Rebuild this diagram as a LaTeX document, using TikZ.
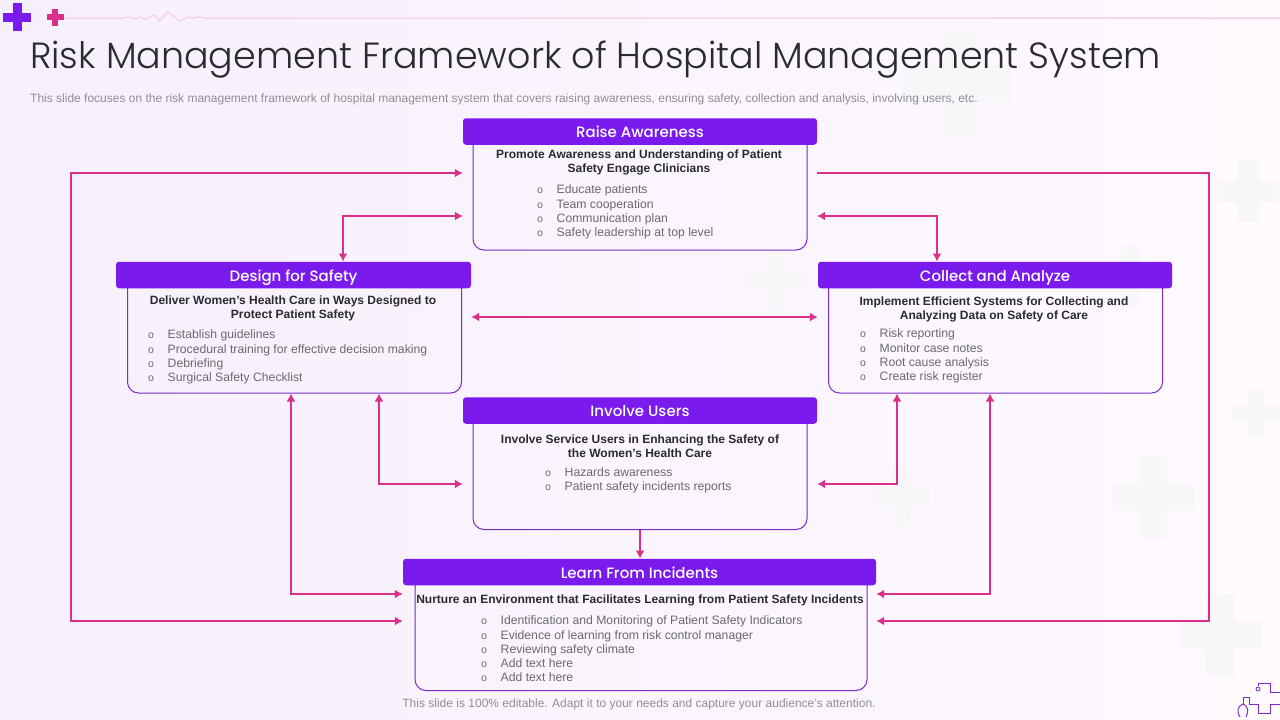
\documentclass[tikz,border=0pt]{standalone}
\usepackage{fontspec}
\usetikzlibrary{arrows.meta}
\setmainfont{Liberation Sans}
\newfontfamily\titlefont[UprightFont=* Light]{Poppins}
\newfontfamily\headfont[UprightFont=* Medium]{Poppins}
\definecolor{bgLeft}{HTML}{F6EFFD}
\definecolor{bgRight}{HTML}{FEFAFE}
\definecolor{markGray}{HTML}{F9F6FA}
\definecolor{barPink}{HTML}{F5D5EA}
\definecolor{linkPink}{HTML}{DA2F8B}
\definecolor{headPurple}{HTML}{7B1AEC}
\definecolor{boxPurple}{HTML}{7C2BC4}
\definecolor{inkDark}{HTML}{2B2A30}
\definecolor{inkGray}{HTML}{6B6870}
\definecolor{inkPale}{HTML}{918D96}
\tikzset{
  headbox/.style={fill=headPurple,rounded corners=3pt,text=white,minimum height=26.5pt,
    text height=16pt,text depth=4pt,inner sep=0pt,font=\headfont\fontsize{15}{18}\selectfont},
  bodybox/.style={draw=boxPurple,line width=1pt,rounded corners=11pt,inner sep=0pt},
  leadtext/.style={align=center,inner sep=0pt,text=inkDark,font=\bfseries\fontsize{12}{14}\selectfont},
  listtext/.style={anchor=west,align=left,inner sep=0pt,text=inkGray,font=\fontsize{12.2}{14.3}\selectfont},
  link/.style={draw=linkPink,line width=2.6pt},
  note/.style={inner sep=0pt,text=inkPale,font=\fontsize{12}{14}\selectfont}
}
% x, y, span, arm
\newcommand{\plusmark}[5]{
  \fill[#5] (#1-#4/2,#2-#3/2) rectangle (#1+#4/2,#2+#3/2);
  \fill[#5] (#1-#3/2,#2-#4/2) rectangle (#1+#3/2,#2+#4/2);
}
\newcommand{\bul}{\makebox[19.5pt][l]{\fontsize{10.5}{14.3}\selectfont o}}
\begin{document}
\begin{tikzpicture}[x=1pt,y=-1pt,>={Latex[length=8pt,width=9pt]}]
\useasboundingbox (0,0) rectangle (1280,720);

\fill[left color=bgLeft,middle color=bgRight,right color=bgRight] (0,0) rectangle (1280,720);

% pale marks
\plusmark{957}{83}{110}{37}{markGray}
\plusmark{1248}{191}{62}{21}{markGray}
\plusmark{1130}{276}{60}{18}{markGray}
\plusmark{777}{280}{60}{20}{markGray}
\plusmark{901}{497}{60}{20}{markGray}
\plusmark{1153}{497}{82}{28}{markGray}
\plusmark{1256}{413}{48}{16}{markGray}
\plusmark{1220}{635}{83}{28}{markGray}

% top strip
\draw[barPink,line width=1.5pt] (60,18) -- (123,18) -- (128,17) -- (134,19) -- (140,17) -- (145,19)
  -- (155,15) -- (159,21) -- (168,12) -- (180,21) -- (188,17) -- (193,18) -- (200,17) -- (205,18) -- (1280,18);
\plusmark{17}{17}{28}{9}{headPurple}
\plusmark{55}{17}{17}{6}{linkPink}

% corner icon
\draw[boxPurple,line width=.8pt] (1258,686) -- (1258,683) -- (1270,683) -- (1270,692) -- (1280,692) -- (1280,704) -- (1270,704)
  -- (1270,713) -- (1258,713) -- (1258,704) -- (1249,704) -- (1249,697) -- (1243,697) -- (1243,704);
\draw[boxPurple,line width=.8pt] (1258,689) circle (2);
\draw[boxPurple,line width=1pt] (1240,717) .. controls (1236,711) and (1238,706) .. (1243,704)
  .. controls (1248,706) and (1249,711) .. (1246,717);

\node[anchor=west,inner sep=0pt,text=inkDark,font=\titlefont\fontsize{36.45}{42}\selectfont] (title) at (30,60)
  {Risk Management Framework of Hospital Management System};
\node[note,anchor=west] (subtitle) at (30,99.5)
  {This slide focuses on the risk management framework of hospital management system that covers raising awareness, ensuring safety, collection and analysis, involving users, etc.};
\node[note] (footer) at (639,704) {This slide is 100\% editable. Adapt it to your needs and capture your audience's attention.};

% boxes
\node[bodybox,minimum width=334pt,minimum height=118pt] (raiseBody) at (640,191) {};
\node[bodybox,minimum width=334pt,minimum height=118pt] (designBody) at (294.5,334) {};
\node[bodybox,minimum width=334pt,minimum height=118pt] (collectBody) at (995.5,334) {};
\node[bodybox,minimum width=334pt,minimum height=119pt] (involveBody) at (640,470) {};
\node[bodybox,minimum width=452pt,minimum height=118pt] (learnBody) at (641,631.5) {};

\node[headbox,minimum width=354pt] (raiseHead) at (640,131.5) {Raise Awareness};
\node[headbox,minimum width=355pt] (designHead) at (293.5,275) {Design for Safety};
\node[headbox,minimum width=354pt] (collectHead) at (995,275) {Collect and Analyze};
\node[headbox,minimum width=354pt] (involveHead) at (640,410.5) {Involve Users};
\node[headbox,minimum width=473pt] (learnHead) at (639.5,572) {Learn From Incidents};

\node[leadtext] (raiseLead) at (639,162.5) {Promote Awareness and Understanding of Patient\\Safety Engage Clinicians};
\node[leadtext] (designLead) at (293,308.5) {Deliver Women's Health Care in Ways Designed to\\Protect Patient Safety};
\node[leadtext] (collectLead) at (994,309.5) {Implement Efficient Systems for Collecting and\\Analyzing Data on Safety of Care};
\node[leadtext] (involveLead) at (640,446) {Involve Service Users in Enhancing the Safety of\\the Women's Health Care};
\node[leadtext] (learnLead) at (640,600.5) {Nurture an Environment that Facilitates Learning from Patient Safety Incidents};

\node[listtext] (raiseList) at (537,212) {\bul Educate patients\\\bul Team cooperation\\\bul Communication plan\\\bul Safety leadership at top level};
\node[listtext] (designList) at (148,357) {\bul Establish guidelines\\\bul Procedural training for effective decision making\\\bul Debriefing\\\bul Surgical Safety Checklist};
\node[listtext] (collectList) at (860,356) {\bul Risk reporting\\\bul Monitor case notes\\\bul Root cause analysis\\\bul Create risk register};
\node[listtext] (involveList) at (545,480) {\bul Hazards awareness\\\bul Patient safety incidents reports};
\node[listtext] (learnList) at (481,649) {\bul Identification and Monitoring of Patient Safety Indicators\\\bul Evidence of learning from risk control manager\\\bul Reviewing safety climate\\\bul Add text here\\\bul Add text here};

% connector ends on the boxes
\coordinate (raiseWestA) at (raiseHead.west |- 0,173);
\coordinate (raiseWestB) at (raiseHead.west |- 0,216);
\coordinate (raiseEastA) at (raiseHead.east |- 0,173);
\coordinate (raiseEastB) at (raiseHead.east |- 0,216);
\coordinate (learnWestA) at (learnHead.west |- 0,594);
\coordinate (learnWestB) at (learnHead.west |- 0,621);
\coordinate (learnEastA) at (learnHead.east |- 0,594);
\coordinate (learnEastB) at (learnHead.east |- 0,621);
\coordinate (involveWest) at (involveHead.west |- 0,484);
\coordinate (involveEast) at (involveHead.east |- 0,484);
\coordinate (designEast) at (designHead.east |- 0,317);
\coordinate (collectWest) at (collectHead.west |- 0,317);

\draw[link,<->] (raiseWestA) -- (71,173) -- (71,621) -- (learnWestB);
\draw[link,->] (raiseEastA) -- (1209,173) -- (1209,621) -- (learnEastB);
\draw[link,<->] (raiseWestB) -| (designHead.north -| 343,0);
\draw[link,<->] (raiseEastB) -| (collectHead.north -| 937,0);
\draw[link,<->] (designEast) -- (collectWest);
\draw[link,<->] (designBody.south -| 291,0) |- (learnWestA);
\draw[link,<->] (designBody.south -| 379,0) |- (involveWest);
\draw[link,<->] (collectBody.south -| 897,0) |- (involveEast);
\draw[link,<->] (collectBody.south -| 990,0) |- (learnEastA);
\draw[link,->] (involveBody.south) -- (involveBody.south |- learnHead.north);

\end{tikzpicture}
\end{document}
